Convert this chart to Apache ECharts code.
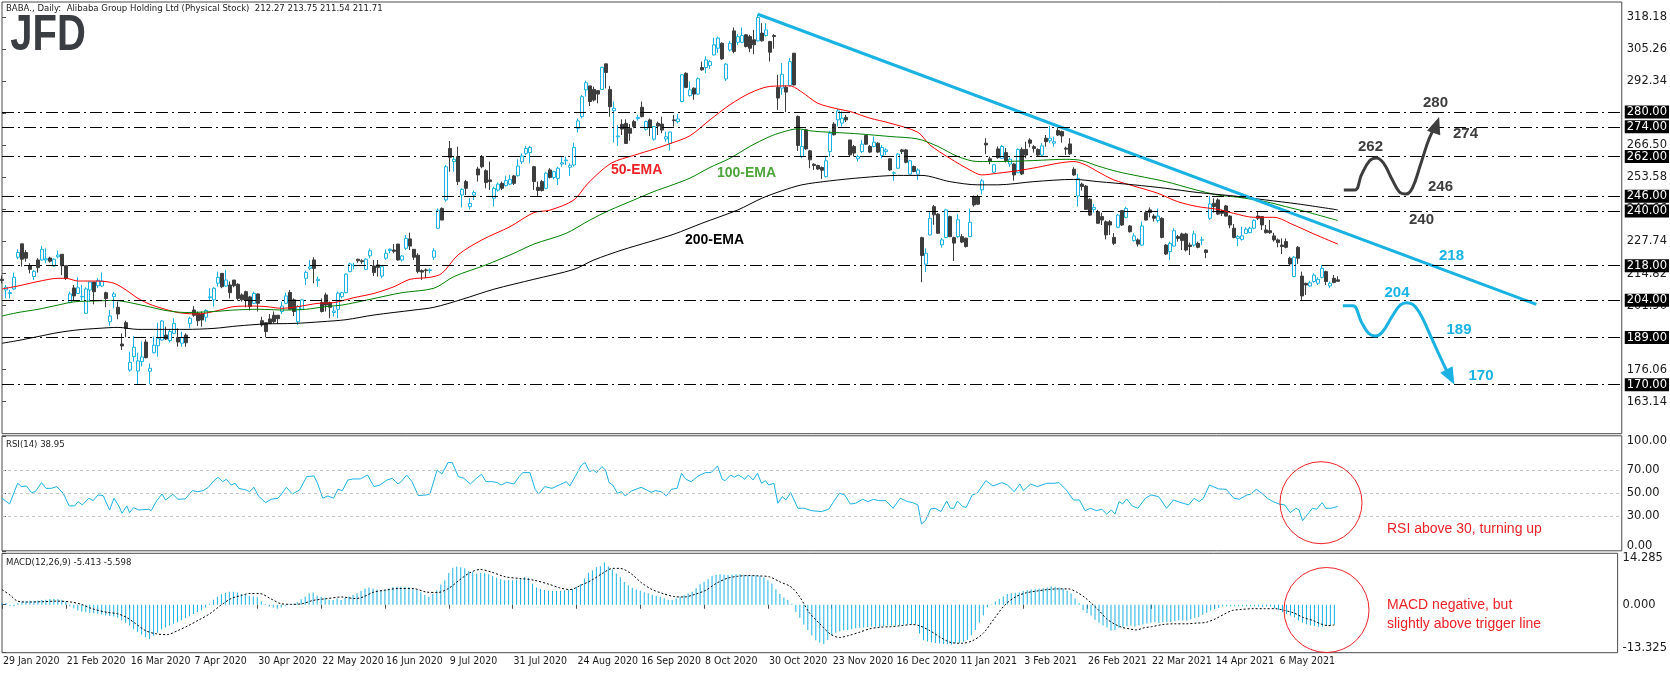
<!DOCTYPE html>
<html><head><meta charset="utf-8">
<script src="https://cdn.jsdelivr.net/npm/echarts@6/dist/echarts.min.js"></script>
<style>html,body{margin:0;padding:0;background:#fff}#c{width:1670px;height:674px}</style>
</head><body><div id="c"></div>
<script>
// ---- trading calendar ----
const startDate = '2020-01-29';
const holidays = ['2020-02-17','2020-04-10','2020-05-25','2020-07-03','2020-09-07','2020-11-26','2020-12-25','2021-01-01','2021-01-18','2021-02-15','2021-04-02'];
const SLOTS = 406;

// ---- daily OHLC ----
const opens = [
212.5,208.2,206.8,208.6,221.4,226.8,223.3,218.0,213.6,220.3,
220.3,220.3,221.1,217.9,221.6,222.6,218.0,203.2,209.0,206.8,
205.4,198.8,208.2,211.4,209.9,209.8,207.1,195.4,205.5,201.2,
186.4,195.0,175.9,181.3,175.5,179.3,187.2,175.4,182.9,185.7,
188.0,190.0,187.8,190.7,189.0,186.7,190.0,194.7,200.1,198.8,
198.5,197.2,205.1,204.2,210.9,214.9,209.8,210.2,212.2,210.5,
206.2,207.5,205.4,202.8,206.6,195.8,195.0,196.5,198.0,198.0,
199.5,202.8,207.2,204.2,195.4,200.4,212.9,216.9,220.3,212.0,
203.1,206.2,203.1,199.1,200.4,205.5,207.1,215.6,217.9,220.6,
220.0,216.5,222.0,217.9,218.3,213.8,221.0,224.1,224.3,226.7,
220.3,225.0,228.8,224.6,222.2,216.0,216.3,216.0,221.4,233.1,
241.1,244.5,265.3,260.0,262.0,246.5,251.9,241.8,246.5,257.0,
262.0,256.3,252.6,245.2,248.5,251.2,250.3,250.9,254.2,254.3,
259.9,263.3,263.6,257.9,249.6,251.9,249.2,256.6,253.6,253.2,
259.0,260.3,257.7,258.6,273.4,278.1,288.9,290.5,289.1,288.6,
289.1,299.4,289.1,280.5,270.0,275.0,275.4,273.4,276.1,277.3,
281.9,273.0,276.8,269.0,275.4,275.1,269.1,267.3,276.8,276.1,
284.2,295.6,286.6,289.6,287.2,297.9,297.9,298.7,303.0,305.7,
307.7,293.3,305.0,312.7,308.1,308.1,311.1,310.4,309.1,308.7,
311.8,310.8,308.4,310.8,289.9,289.6,289.9,290.7,303.7,278.2,
262.0,272.8,264.3,258.9,258.4,257.6,253.9,264.0,275.1,276.8,
275.5,277.8,268.7,266.1,261.1,264.0,270.5,266.1,266.1,267.4,
262.4,264.0,261.1,255.3,257.3,264.7,264.7,254.9,258.0,254.9,
229.3,218.6,230.4,241.8,238.8,226.4,229.3,237.8,229.3,229.7,
229.7,229.1,229.7,245.9,245.9,248.6,267.4,261.1,255.7,265.1,
261.3,263.6,259.0,259.0,255.5,264.9,264.9,268.7,266.0,264.9,
262.6,269.4,268.4,267.4,272.5,272.1,265.4,267.1,256.9,246.1,
250.9,250.1,244.8,240.7,239.8,237.8,235.7,235.7,229.4,233.5,
240.2,237.5,234.0,228.1,228.4,226.3,239.4,240.5,238.0,236.2,
237.1,226.3,223.7,225.9,229.7,230.8,230.8,226.3,226.3,227.0,
228.3,224.3,237.1,243.2,244.5,239.8,242.1,238.0,233.1,229.0,
228.6,231.0,231.3,233.1,238.0,237.8,232.4,232.1,230.0,228.4,
226.3,227.7,221.0,213.6,225.4,213.8,210.9,209.8,211.6,210.9,
213.3,215.6,209.8,212.9,212.27];
const highs = [
214.0,210.2,208.2,215.2,224.6,226.8,224.3,219.0,216.3,221.0,
226.0,225.0,221.6,221.0,224.1,222.7,218.0,207.5,210.2,213.3,
210.2,209.3,211.7,211.4,213.0,215.3,207.5,200.1,207.4,203.5,
190.7,195.8,183.3,189.6,182.9,187.4,188.3,178.6,189.4,195.0,
196.1,193.4,192.1,196.8,192.7,191.4,190.7,197.4,201.7,199.5,
199.5,200.4,208.9,209.3,215.6,214.9,216.3,211.6,212.2,210.9,
206.8,207.9,205.8,207.5,206.8,197.4,195.0,198.5,199.5,198.0,
203.5,207.1,208.2,204.8,202.1,204.4,216.0,220.3,221.4,213.6,
204.8,207.1,203.5,201.5,207.5,207.5,214.9,219.2,219.2,220.8,
220.6,221.0,224.9,220.3,220.3,217.9,224.6,225.0,226.7,226.7,
222.3,230.4,231.3,224.6,223.0,216.5,216.9,216.9,225.0,241.1,
241.5,258.6,268.3,262.0,266.0,249.2,252.6,245.2,248.3,257.9,
262.6,256.9,260.0,249.9,251.5,251.9,254.3,254.6,254.6,260.9,
263.3,266.3,266.3,258.2,251.9,252.6,255.9,257.3,256.3,257.9,
262.0,262.0,259.3,267.6,277.4,286.8,292.6,290.5,290.2,288.6,
298.3,299.4,290.5,284.2,274.7,277.0,277.0,275.1,276.8,278.8,
284.2,276.5,277.4,274.3,276.1,278.1,272.1,272.1,278.8,279.2,
295.2,296.0,292.3,289.9,293.9,300.3,302.4,301.0,310.0,310.4,
308.1,299.7,308.7,314.1,311.4,314.1,311.4,311.1,313.1,319.4,
315.8,315.8,308.7,311.4,295.0,299.7,290.7,301.7,303.7,278.6,
272.8,273.2,264.7,259.3,258.7,258.0,262.0,272.4,275.9,281.2,
280.2,278.8,268.7,266.7,262.7,268.7,270.8,266.7,270.1,267.8,
266.7,265.4,261.3,256.0,263.4,265.1,265.1,260.7,258.4,257.3,
229.7,225.0,239.6,242.5,239.2,229.1,240.9,238.2,229.7,238.8,
230.7,229.3,240.9,246.3,246.6,253.0,269.4,262.0,258.9,266.1,
266.7,265.4,261.7,259.3,265.3,265.7,268.0,269.4,266.7,265.3,
267.4,270.7,274.3,270.0,274.3,272.5,266.0,269.4,257.7,255.0,
251.5,250.5,245.2,242.9,240.5,239.4,236.2,236.4,231.1,238.8,
240.5,241.8,234.4,231.1,229.0,235.8,240.2,241.5,238.8,241.1,
237.5,226.7,227.7,233.1,230.4,231.3,231.3,227.3,232.1,227.7,
229.7,224.6,246.1,245.2,245.2,240.7,242.5,238.4,234.8,230.4,
233.7,233.5,233.7,236.7,239.8,238.0,234.4,236.4,231.3,229.0,
229.0,229.0,221.6,221.9,225.9,215.6,211.1,211.9,214.9,213.3,
218.3,216.0,211.6,214.2,213.75];
const lows = [
210.8,204.8,204.8,208.2,220.6,217.6,219.6,214.9,212.2,215.2,
220.0,219.0,219.2,217.6,221.0,214.2,212.2,202.8,203.9,206.6,
203.9,198.8,203.5,202.4,208.9,209.5,201.2,193.7,200.8,196.4,
184.0,189.1,175.2,179.3,170.1,177.3,180.6,170.1,182.6,181.3,
187.8,188.0,187.0,190.4,185.3,185.3,185.3,192.7,197.4,193.7,
193.4,195.4,204.2,201.5,209.5,208.9,209.5,204.8,209.3,203.9,
203.5,201.2,199.9,202.5,199.5,193.4,189.1,194.5,194.7,194.5,
198.5,202.5,200.4,197.7,194.1,200.1,210.2,216.3,210.9,209.5,
199.1,199.5,196.8,197.4,196.8,204.8,206.8,215.3,216.5,219.2,
218.7,216.3,221.0,213.8,213.6,212.9,220.3,223.0,223.0,220.0,
219.6,224.3,224.3,220.3,214.9,212.2,212.9,214.9,220.3,232.8,
236.4,243.8,255.9,255.9,250.5,241.5,246.5,240.7,244.5,251.9,
257.3,249.2,248.5,241.8,247.9,248.5,249.9,250.5,250.5,253.9,
259.0,262.6,259.3,248.5,246.1,247.9,248.8,253.2,252.8,250.5,
257.9,258.6,254.2,257.9,271.7,277.4,286.2,282.4,284.2,283.5,
288.9,289.5,278.1,267.6,266.3,270.7,267.1,268.4,273.4,276.5,
277.8,272.5,270.3,268.4,270.7,271.4,268.0,264.4,274.1,275.4,
283.9,289.6,286.2,284.9,286.9,296.6,295.6,297.4,302.8,303.7,
301.0,292.5,304.4,303.7,307.1,307.7,306.0,304.1,303.3,308.4,
308.4,310.4,300.3,305.5,280.8,286.9,279.9,290.3,290.7,264.3,
261.3,264.7,257.3,256.6,256.6,253.0,253.5,262.0,270.5,274.1,
274.1,275.9,262.0,262.0,260.0,263.4,266.7,263.4,265.7,263.4,
261.3,262.7,256.2,252.2,257.0,263.0,259.3,254.6,255.7,252.6,
211.3,215.4,230.2,234.5,230.8,225.3,229.1,229.5,219.9,229.1,
227.1,225.3,229.5,241.8,242.5,246.8,263.0,258.9,255.3,261.1,
261.1,259.6,257.9,252.3,255.3,254.6,261.3,265.7,263.6,262.2,
262.2,266.0,267.4,266.0,270.3,267.6,262.6,262.6,254.2,241.8,
248.3,240.5,238.0,239.4,234.8,234.4,228.6,230.4,226.3,233.1,
234.0,237.1,231.3,227.7,225.7,225.9,236.2,237.5,235.8,235.4,
229.0,222.3,220.3,225.7,227.7,224.3,223.7,222.3,225.7,225.0,
226.3,221.0,236.4,239.4,238.4,238.0,237.8,233.1,229.0,225.9,
228.1,230.8,231.1,232.7,236.4,232.4,231.0,230.8,227.7,225.4,
222.7,225.0,218.3,213.3,218.7,204.2,206.2,209.5,211.2,210.2,
212.9,210.2,208.9,210.9,211.54];
const closes = [
212.0,209.3,207.1,213.3,223.3,220.6,221.0,216.5,215.7,217.2,
224.6,220.8,219.8,220.6,222.3,218.0,212.9,206.6,205.8,209.1,
205.6,208.6,211.4,207.5,212.1,211.8,204.7,197.7,206.6,198.5,
185.6,192.7,179.0,185.1,179.6,181.2,180.9,176.6,185.9,188.7,
195.7,188.4,191.4,194.7,187.2,189.0,186.9,196.8,198.0,195.8,
196.1,199.9,205.4,208.9,213.3,209.5,212.2,207.1,209.9,204.8,
204.2,203.9,201.5,206.8,202.8,194.1,191.4,194.7,195.4,196.6,
201.7,205.8,200.4,199.5,201.5,204.2,215.3,217.5,216.9,212.5,
199.5,202.1,201.2,199.7,206.9,207.1,214.6,218.7,218.2,220.0,
219.6,220.6,224.0,215.2,217.3,217.6,223.0,224.6,223.8,220.3,
221.9,229.0,225.9,221.4,215.6,215.4,216.0,216.3,224.0,240.4,
236.4,257.9,261.7,260.9,251.9,248.8,249.2,243.1,247.5,254.6,
257.9,251.5,251.9,249.2,250.9,249.2,252.3,252.8,251.2,258.2,
262.2,265.3,265.7,251.9,248.3,248.3,255.3,253.6,255.9,257.3,
259.5,260.6,258.5,265.7,276.4,286.2,291.8,284.2,284.8,287.2,
298.0,295.9,282.1,281.5,270.3,273.1,267.3,271.4,274.1,277.8,
278.1,276.1,273.8,274.1,274.3,272.7,270.0,271.9,276.5,277.2,
295.0,289.9,288.9,287.2,293.4,297.0,301.0,300.3,307.1,309.8,
301.4,299.3,307.7,304.4,310.4,310.8,306.4,305.7,307.1,318.1,
308.7,313.1,304.1,310.4,285.6,295.2,288.0,300.3,290.9,266.5,
266.1,265.1,260.7,258.4,257.0,256.5,260.3,271.4,270.8,280.4,
277.5,276.8,262.7,263.4,262.0,267.0,267.0,263.8,267.8,263.8,
265.7,264.7,256.6,255.5,263.0,264.0,259.7,260.3,256.0,256.6,
222.1,223.0,237.1,238.5,231.1,228.4,240.5,229.7,227.1,236.5,
227.5,225.7,235.5,242.5,242.8,252.2,266.7,260.0,258.7,261.6,
266.1,260.4,260.9,254.6,264.9,255.0,262.6,267.4,265.3,262.6,
266.3,268.0,269.4,268.0,270.7,270.3,265.0,263.1,254.6,253.2,
249.9,240.7,238.4,241.5,235.1,236.4,230.4,234.4,227.0,238.4,
234.4,241.1,231.7,230.0,226.7,234.0,236.4,239.4,237.1,238.0,
229.4,222.7,227.0,232.1,229.0,228.1,224.3,225.7,230.8,225.4,
228.4,223.3,242.9,241.8,238.8,239.1,238.0,234.4,229.4,229.7,
230.0,232.7,233.1,236.2,237.1,234.4,231.3,231.3,228.4,227.3,
225.7,225.4,218.7,221.4,221.0,205.8,210.2,211.1,214.2,212.5,
216.9,211.6,210.9,211.2,211.71];

// ---- moving averages: [bar, price] ----
const ema50 = [[0,208.6],[4,209.8],[9,211.6],[14,212.9],[16,212.9],[19,211.8],[24,211.8],[28,210.9],[31,208.2],[34,204.8],[37,202.4],[40,200.8],[44,199.1],[49,198.5],[54,199.9],[58,201.5],[63,201.7],[66,201.5],[70,200.8],[74,201.5],[79,202.8],[83,203.1],[88,205.1],[93,206.8],[98,209.5],[102,212.5],[107,213.3],[110,214.9],[114,222.3],[120,228.4],[127,233.7],[133,239.4],[137,240.4],[143,244.5],[146.5,251.2],[152.3,259.3],[158.2,262.6],[163,265.0],[167,267.2],[172,270.4],[177,276.8],[182,282.9],[187,287.6],[192,290.3],[197,290.5],[200,288.0],[204,283.5],[209,281.2],[212,280.2],[217,277.5],[222,275.5],[229,271.8],[232,266.7],[237,261.3],[242,256.6],[245,254.6],[249,255.3],[254,256.3],[259,257.7],[264,259.3],[268,260.0],[271,258.6],[274,255.9],[278,252.6],[283,250.1],[289,247.2],[294,243.8],[299,241.8],[304,240.7],[308,239.1],[313,237.5],[318,237.5],[323,234.4],[328,230.8],[334,226.7]];
const ema100 = [[0,197.7],[4,199.1],[9,200.4],[14,202.1],[18,203.4],[24,203.8],[28,204.0],[31,203.4],[36,201.7],[41,199.9],[46,199.1],[53,199.5],[58,200.1],[64,200.4],[71,200.1],[76,200.4],[81,201.5],[85,202.1],[92,204.4],[100,207.1],[108,208.9],[113,213.6],[121,218.3],[128,223.0],[133,226.7],[141,231.0],[147,236.4],[152,240.4],[158,244.5],[163,247.9],[167,250.2],[172,253.3],[177,257.6],[182,261.3],[187,266.1],[192,270.1],[195,271.8],[199,273.2],[202,272.4],[207,271.8],[212,271.4],[217,270.8],[222,270.1],[229,269.1],[234,266.1],[239,262.0],[244,260.0],[249,260.0],[258,260.4],[266,260.9],[270,260.4],[274,258.2],[279,255.9],[284,254.2],[291,251.9],[298,248.8],[304,246.5],[309,245.6],[316,243.8],[321,241.8],[326,239.8],[334,236.2]];
const ema200 = [[0,186.7],[4,187.8],[9,189.4],[14,191.0],[19,192.1],[24,192.7],[29,193.1],[34,192.3],[39,192.3],[46,192.3],[53,192.7],[59,193.7],[66,194.5],[73,194.7],[80,195.4],[86,196.2],[93,198.1],[103,200.1],[108,201.2],[115,204.4],[123,208.5],[133,212.5],[143,216.5],[148,220.3],[155,224.3],[162,227.7],[168,230.7],[175,235.1],[184,240.5],[190,245.2],[195,248.2],[200,250.6],[207,252.2],[215,253.5],[224,254.4],[230,254.4],[237,251.9],[244,250.6],[249,250.6],[258,251.9],[268,252.8],[274,251.9],[283,250.6],[291,249.2],[299,247.5],[308,246.1],[316,244.5],[324,242.9],[334,240.5]];

// ---- RSI(14): [bar, value] ----
const rsi = [[0,45.7],[1.9,40.7],[3.9,58.7],[4.9,55.8],[6.1,56.4],[7.4,50.6],[8.3,51.4],[9.9,59.3],[11,54.3],[12.3,54.3],[13.7,55.8],[15.3,50],[16.8,39],[18.2,39],[19,42.8],[20.1,39.9],[21.7,45.7],[22.8,43.6],[24,48.6],[25.3,48],[26.9,35.5],[28,45.7],[29.3,38.4],[30,32.6],[31.2,39],[31.9,33.2],[32.9,37.5],[34.2,35.5],[36.7,36.1],[37.3,34.9],[38.7,43.6],[40,49.4],[40.9,44.2],[42.7,49.1],[44,44.8],[45.8,45.1],[47.6,52.3],[48.9,51.4],[50.3,52.3],[51.6,55.2],[53,61],[54,63.9],[55.2,60.1],[56.1,62.2],[57.3,57.2],[58.3,58.7],[59.2,54.3],[61,52.9],[61.9,51.4],[63,55.2],[64.1,47.7],[65.9,41.9],[67.3,44.8],[69,45.7],[69.9,49.4],[71.1,55.2],[72.6,49.4],[74.4,52.9],[76.2,64.5],[78,65.1],[78.9,58.7],[80.2,45.7],[81.5,47.7],[82.9,45.7],[84,53.5],[85.1,52.3],[86.5,61.6],[87.8,62.5],[89.6,62.5],[91.4,65.9],[93,55.8],[94.5,57.2],[96.3,61.6],[97.6,63],[99,58.1],[99.8,60.1],[101.2,65.9],[102.5,60.1],[104.1,48],[106.1,48.6],[107,49.4],[108.8,70.3],[110,66.8],[111.5,76.7],[112.6,76.7],[114.1,64.5],[115.5,63],[117.1,58.1],[118.6,63],[119.9,66.5],[121,60.1],[122.6,60.1],[123.9,59.3],[124.8,57.2],[126.2,59.6],[128,58.1],[129.3,64.5],[130.2,68],[132,68],[133.3,53.5],[134.2,49.4],
[135.7,55.8],[137.5,54.3],[139.3,57.2],[141.1,60.1],[142,56.4],[143.3,64.5],[144.9,74.6],[145.8,76.7],[146.9,68.8],[147.8,70.3],[148.7,68],[150,73.2],[150.9,70.3],[151.8,59.3],[152.7,57.2],[153.9,50],[154.9,51.4],[155.8,47.7],[157.4,52],[159.8,55.2],[161.2,52.9],[162.3,50.9],[163.4,52.3],[164.8,51.4],[166.1,47.7],[167.4,53.5],[168.8,54.3],[169.9,67.4],[171,62.2],[172.3,60.1],[174.1,65.1],[175.9,68],[177.3,68],[178.9,73.8],[180.1,62.2],[180.8,61],[182.2,65.9],[183.1,63.9],[184.1,65.9],[185.1,63.9],[185.7,62.2],[186.6,65.9],[187.8,61.6],[188.9,67.4],[189.9,58.7],[190.9,61],[191.7,57.2],[193,58.7],[194,41.3],[195.1,47.1],[196,44.2],[197.2,50.6],[199,37],[200.6,37],[202.4,34.9],[204.9,34.1],[206.7,36.1],[208.1,43.6],[209.4,50],[210.7,48.6],[212.1,40.7],[213.4,41.3],[215.2,44.8],[216.5,42.8],[217.9,44.8],[219.2,43.6],[221,43.6],[222.8,37],[224.6,45.7],[226.4,42.8],[227.7,41.9],[229,39.9],[229.9,23.3],[231,26.8],[232.2,36.4],[233.3,37],[234.8,34.1],[236.2,43.3],[237.1,37],[238,37],[238.9,43.3],[240.2,38.4],[241.1,37.8],[242.6,48.6],[243.8,50],[246,61],[247.8,56.4],[250,59.3],[251.4,57.2],[253.1,51.4],[254.5,58.1],[255.4,52.3],[257.2,58.1],[258.9,55.8],[261.2,58.7],[263,58.7],[264.3,59.3],[266.1,52.9],[267.9,44.2],[269.4,44.2],
[270.8,34.9],[272.2,37],[273.6,34.9],[275,36.1],[276.2,32],[277.4,35.5],[278.3,32],[279.3,42.8],[280.2,40.7],[281.2,45.1],[282.6,39],[284,37],[285.9,45.7],[287.3,48.6],[289.2,47.1],[291.2,37],[292.9,44.2],[294.8,41.9],[296.7,39.9],[298.1,45.7],[299.3,42.8],[300.4,45.7],[301.9,57.2],[304.2,53.8],[306.1,53.5],[308,45.7],[309.4,44.8],[311.3,48.6],[312.2,49.1],[313.6,53.5],[315,50],[316.4,45.7],[317.8,42.8],[319.3,40.7],[320.7,39.9],[322.1,33.2],[323.5,37],[324.3,35.5],[325.2,26.2],[326.3,31.2],[327.7,37],[328.7,36.1],[330.1,41.9],[331,37],[332.4,37],[333.8,38.4],[334,38.95]];

// ---- MACD(12,26,9) histogram per bar ----
const macdHist = [
0.4,0.5,-0.3,-0.4,0.5,0.9,1.0,1.1,1.1,1.2,
1.3,1.4,1.6,1.6,1.5,1.4,1.0,-0.4,-1.0,-1.6,
-1.9,-2.1,-2.2,-2.4,-2.5,-2.7,-3.0,-3.1,-3.3,-3.6,
-4.3,-5.0,-5.8,-6.8,-7.6,-8.3,-9.0,-9.5,-8.6,-7.8,
-6.9,-6.3,-5.8,-5.3,-4.9,-4.3,-3.7,-3.2,-2.6,-2.0,
-1.5,-0.8,0.3,1.4,2.2,2.9,3.3,3.6,3.6,3.4,
3.0,2.7,2.5,2.3,2.1,1.0,0.2,-0.5,-0.8,-1.1,
-0.8,-0.3,0.1,0.3,0.7,1.5,2.3,3.1,3.4,2.5,
2.2,2.0,1.4,1.3,1.7,1.3,1.9,2.3,2.7,3.2,
3.8,4.5,4.8,4.5,4.2,4.0,4.2,4.6,4.9,5.0,
5.0,5.0,4.9,4.5,4.1,3.5,2.7,2.2,3.0,4.0,
5.6,6.8,8.8,10.3,10.6,10.4,10.1,9.4,9.0,8.6,
8.9,8.8,8.5,8.0,7.5,7.1,6.8,6.8,6.8,7.0,
7.3,7.6,7.5,5.8,4.8,4.4,4.1,3.9,3.8,3.8,
3.8,4.0,4.1,4.4,4.9,5.7,7.3,8.9,9.6,10.4,
10.7,11.7,10.6,9.8,8.7,7.6,6.3,5.4,4.7,4.2,
3.9,3.5,3.2,2.8,2.5,2.2,1.8,1.4,1.3,1.7,
2.2,2.6,3.1,3.6,4.6,5.7,6.4,7.1,8.0,8.3,
8.5,8.3,8.2,8.3,8.5,8.5,8.3,8.2,8.2,8.2,
8.0,7.6,6.8,5.9,4.3,3.0,2.0,1.3,0.3,-2.0,
-3.6,-5.5,-7.0,-8.5,-9.9,-10.5,-10.9,-9.8,-8.5,-7.8,
-7.4,-7.1,-7.0,-6.8,-6.5,-6.4,-6.3,-6.2,-6.1,-6.1,
-6.1,-5.9,-5.8,-5.8,-5.8,-5.6,-5.5,-5.5,-5.4,-5.4,
-8.0,-9.9,-10.2,-10.4,-10.6,-10.8,-10.9,-11.0,-11.1,-10.8,
-10.6,-10.3,-9.8,-8.5,-7.0,-5.0,-3.0,-0.7,0.1,0.9,
1.6,2.3,3.0,3.2,3.3,3.4,3.8,4.0,4.2,4.3,
4.5,4.6,4.8,5.1,5.0,4.8,4.5,3.9,3.1,1.7,
0.5,-1.5,-2.3,-3.0,-4.2,-5.0,-5.8,-6.3,-7.2,-7.0,
-6.4,-6.1,-6.0,-5.8,-6.1,-5.8,-5.5,-5.2,-5.0,-4.9,
-5.1,-4.9,-4.9,-4.8,-4.6,-4.3,-4.4,-4.4,-4.0,-3.6,
-3.4,-2.8,-2.2,-1.6,-1.2,-0.9,-0.5,-0.4,-0.45,-0.45,
-0.45,-0.45,-0.45,-0.45,-0.45,-0.5,-0.65,-0.5,-0.5,-1.0,
-1.4,-2.0,-2.6,-3.0,-3.5,-4.4,-5.0,-5.4,-5.7,-5.9,
-6.1,-6.1,-5.9,-5.8,-5.413];
const macdSignal = [[0,4.2],[2.1,2.6],[3.9,1.0],[6.5,0.75],[10.1,0.85],[13.7,1.0],[17.3,0.75],[19.9,0.1],[22.6,-1.1],[26.2,-2.1],[28.9,-2.5],[31.1,-3.45],[33.3,-5.1],[36,-7.2],[38.7,-8.1],[41.4,-8.3],[44,-7.2],[46.7,-5.8],[49.4,-4.2],[52.1,-2.5],[54.8,-0.2],[57.4,1.7],[60.1,2.6],[61.9,3.1],[64.6,3.1],[67.3,1.7],[69.9,0.3],[72.6,0.1],[75.3,0.3],[78,1.2],[81.5,1.7],[85.1,2.15],[88.7,1.7],[90.5,2.15],[93.2,3.5],[95.8,4.0],[99.4,4.5],[103,4.5],[106.5,3.5],[109.2,3.4],[111.9,4.5],[114.6,6.8],[117.3,8.9],[119.9,9.8],[122.6,9.1],[126.2,7.75],[129.8,7.3],[133.4,6.8],
[137.1,5.7],[139.8,4.7],[142.4,4.2],[145.1,5.4],[147.8,6.8],[150.5,8.7],[153.1,10.1],[154.9,10.1],[157.6,8.7],[160.3,6.1],[163,4.2],[165.7,3.1],[168.3,2.3],[171,2.15],[173.7,2.9],[176.4,4.0],[179,5.9],[181.7,7.3],[184.4,7.9],[187.1,8.1],[189.7,8.0],[192.4,7.75],[195.1,6.3],[197.8,4.95],[200,2.15],[202.3,-2.1],[205,-5.3],[207.6,-8.1],[209.9,-9.1],[212.1,-8.6],[214.8,-7.7],[217.5,-6.7],[220.1,-6.25],[222.8,-6.1],[225.5,-5.8],[228.2,-5.5],[229.9,-5.8],[232.6,-7.2],[235.3,-9.1],[237.9,-10.5],[240.6,-10.7],[243.3,-10.0],[246,-7.9],[248.7,-3.9],[251.3,-0.2],[254,2.15],[256.7,3.3],[259.4,3.8],[262,4.2],[264.7,4.4],[267.4,4.4],
[269.4,3.5],[271.3,2.15],[273.2,0.28],[275,-1.6],[276.9,-3.9],[278.8,-5.3],[280.7,-6.25],[282.6,-6.7],[284.4,-7.0],[286.3,-6.4],[288.2,-6.1],[291,-5.5],[293.8,-5.3],[296.7,-5.3],[299.5,-5.1],[301.8,-4.9],[304.2,-3.9],[306.6,-2.5],[308.4,-1.6],[310.8,-1.3],[313.6,-1.1],[316.4,-1.1],[319.2,-1.1],[321.6,-1.6],[323.9,-2.3],[326.3,-3.6],[328.7,-4.4],[330.5,-5.3],[332.4,-5.8],[334,-5.598]];

// ---- levels, ticks, trendline, scenario paths ----
const levels = [280, 274, 262, 246, 240, 218, 204, 189, 170];
const priceTicks = [163.14,176.06,188.98,201.90,214.82,227.74,240.66,253.58,266.50,279.42,292.34,305.26,318.18];
const rsiTicks = [0, 30, 50, 70, 100];
const rsiLevels = [70, 50, 30];
const macdTicks = [-13.325, 0, 14.285];
const trendLine = [[189, 319.4], [383.65, 202.4]];
const bullScenario = [[335.5,248.54],[338.28,248.54],[339.9,254.59],[341.9,260.24],[343.65,261.45],[345.4,259.43],[347.65,252.57],[349.4,247.73],[351.03,246.92],[352.65,249.34],[354.65,258.62],[356.9,269.51],[358.65,274.76]];
const bearScenario = [[335.25,201.87],[337.78,201.87],[339.9,195.29],[341.65,190.85],[343.4,189.64],[345.15,191.26],[347.65,197.71],[349.65,202.15],[351.23,203.08],[352.9,202.15],[354.9,197.71],[357.65,188.03],[360.9,176.73],[362.15,173.10]];

// ---- build ----
const MONTHS = ['Jan','Feb','Mar','Apr','May','Jun','Jul','Aug','Sep','Oct','Nov','Dec'];
const categories = [];
(function(){
  let d = new Date(startDate + 'T00:00:00Z');
  while (categories.length < opens.length) {
    const iso = d.toISOString().slice(0,10);
    const wd = d.getUTCDay();
    if (wd !== 0 && wd !== 6 && holidays.indexOf(iso) < 0)
      categories.push(d.getUTCDate() + ' ' + MONTHS[d.getUTCMonth()] + ' ' + d.getUTCFullYear());
    d = new Date(d.getTime() + 86400000);
  }
  while (categories.length < SLOTS) categories.push('');
})();
const candles = opens.map((o, i) => [o, closes[i], lows[i], highs[i]]);

const CYAN = '#19b2e3', DARK = '#3d3d3d', BORDER = '#4b4b4b', RED = '#ec2227';
const AXF = 'DejaVu Sans';
const CF = 'DejaVu Sans Condensed';
const FS = 11.5, FSX = 10.5, FST = 9.5;
const LBL = {fontSize: FS, fontFamily: AXF, color: '#1a1a1a'};
const tick = (vals) => ({show: true, length: 4, customValues: vals, lineStyle: {color: BORDER}});
const lastIdx = opens.length - 1;
// edge labels are nudged inside their panel, as the terminal does
const edgeRich = {up: {padding: [0, 0, 10, 0], fontSize: FS, fontFamily: AXF, color: '#1a1a1a'},
                  down: {padding: [10, 0, 0, 0], fontSize: FS, fontFamily: AXF, color: '#1a1a1a'}};
const edgeFmt = (lo, hi, dec) => v => {
  const s = v.toFixed(dec);
  if (Math.abs(v - lo) < 1e-9) return '{up|' + s + '}';
  if (Math.abs(v - hi) < 1e-9) return '{down|' + s + '}';
  return s;
};
const txt = (x, y, text, size, color, opts) => Object.assign({type: 'text', z: 100, x: x, y: y,
  style: Object.assign({text: text, fontSize: size, fontFamily: 'Liberation Sans', fill: color, verticalAlign: 'middle'}, opts || {})});

const chart = echarts.init(document.getElementById('c'), null, {renderer: 'canvas'});
const option = {
  animation: false,
  backgroundColor: '#ffffff',
  grid: [
    {left: 2, top: 2, width: 1620, height: 431.7, show: true, borderColor: BORDER, borderWidth: 1},
    {left: 2, top: 435.8, width: 1620, height: 115, show: true, borderColor: BORDER, borderWidth: 1},
    {left: 2, top: 553.3, width: 1620, height: 99.4, show: true, borderColor: BORDER, borderWidth: 1}
  ],
  xAxis: [
    {type: 'category', gridIndex: 0, data: categories, boundaryGap: false, show: false},
    {type: 'value', gridIndex: 0, min: 0, max: SLOTS - 1, show: false},
    {type: 'value', gridIndex: 1, min: 0, max: SLOTS - 1, show: false},
    {type: 'category', gridIndex: 2, data: categories, boundaryGap: false,
      axisLine: {show: false},
      axisTick: {show: true, length: 4, lineStyle: {color: BORDER},
        interval: (i, v) => i % 16 === 0 && v !== ''},
      axisLabel: {interval: (i, v) => i % 16 === 0 && v !== '', align: 'left', margin: 3, padding: [0,0,0,1],
        hideOverlap: false, fontSize: FSX, fontFamily: CF, color: '#1a1a1a'},
      splitLine: {show: false}},
    {type: 'value', gridIndex: 2, min: 0, max: SLOTS - 1, show: false}
  ],
  yAxis: [
    {type: 'value', gridIndex: 0, position: 'right', min: 150.22, max: 324.35, scale: true,
      splitLine: {show: false}, axisLine: {show: false}, axisTick: tick(priceTicks),
      axisLabel: Object.assign({customValues: priceTicks, formatter: v => v.toFixed(2), margin: 5}, LBL)},
    {type: 'value', gridIndex: 1, position: 'right', min: 0, max: 100,
      splitLine: {show: false}, axisLine: {show: false}, axisTick: tick(rsiTicks),
      axisLabel: Object.assign({customValues: rsiTicks, formatter: edgeFmt(0, 100, 2), rich: edgeRich, margin: 5}, LBL)},
    {type: 'value', gridIndex: 2, position: 'right', min: -13.325, max: 14.285,
      splitLine: {show: false}, axisLine: {show: false}, axisTick: tick(macdTicks),
      axisLabel: Object.assign({customValues: macdTicks, formatter: edgeFmt(-13.325, 14.285, 3), rich: edgeRich, margin: 5}, LBL)}
  ],
  series: [
    {type: 'candlestick', xAxisIndex: 0, yAxisIndex: 0, data: candles, barWidth: 3,
      itemStyle: {color: '#ffffff', color0: DARK, borderColor: CYAN, borderColor0: DARK, borderWidth: 1},
      markLine: {silent: true, symbol: 'none', animation: false,
        lineStyle: {color: '#000', width: 1, type: [12, 4, 2, 4]},
        label: {show: true, position: 'end', distance: 3, formatter: p => Number(p.value).toFixed(2),
          backgroundColor: '#000', color: '#fff', padding: [1, 2, 0, 2], fontSize: FS, fontFamily: AXF},
        data: levels.map(v => ({yAxis: v}))}},
    {type: 'line', xAxisIndex: 1, yAxisIndex: 0, data: ema50, symbol: 'none', smooth: 0.3, lineStyle: {color: '#ff0000', width: 1}, z: 3},
    {type: 'line', xAxisIndex: 1, yAxisIndex: 0, data: ema100, symbol: 'none', smooth: 0.3, lineStyle: {color: '#008000', width: 1}, z: 3},
    {type: 'line', xAxisIndex: 1, yAxisIndex: 0, data: ema200, symbol: 'none', smooth: 0.3, lineStyle: {color: '#000000', width: 1}, z: 3},
    {type: 'line', xAxisIndex: 1, yAxisIndex: 0, data: trendLine, symbol: 'none', lineStyle: {color: CYAN, width: 3}, z: 4},
    {type: 'line', xAxisIndex: 1, yAxisIndex: 0, symbol: 'none', smooth: 0.4, lineStyle: {color: DARK, width: 3}, itemStyle: {color: DARK}, z: 5,
      data: bullScenario.map((p, i) => i === bullScenario.length - 1 ? {value: p, symbol: 'triangle', symbolSize: [14, 17], symbolRotate: -19} : {value: p})},
    {type: 'line', xAxisIndex: 1, yAxisIndex: 0, symbol: 'none', smooth: 0.4, lineStyle: {color: CYAN, width: 3}, itemStyle: {color: CYAN}, z: 5,
      data: bearScenario.map((p, i) => i === bearScenario.length - 1 ? {value: p, symbol: 'triangle', symbolSize: [14, 17], symbolRotate: -152} : {value: p})},
    {type: 'line', xAxisIndex: 2, yAxisIndex: 1, data: rsi, symbol: 'none', lineStyle: {color: CYAN, width: 1},
      markLine: {silent: true, symbol: 'none', label: {show: false}, lineStyle: {color: '#c4c4c4', width: 1, type: [3, 3]},
        data: rsiLevels.map(v => ({yAxis: v}))}},
    {type: 'bar', xAxisIndex: 3, yAxisIndex: 2, data: macdHist, barWidth: 1, itemStyle: {color: CYAN}},
    {type: 'line', xAxisIndex: 4, yAxisIndex: 2, data: macdSignal, symbol: 'none', smooth: 0.3, lineStyle: {color: '#000', width: 1, type: [2, 2]}, z: 4}
  ],
  graphic: [
    txt(6, 9, 'BABA., Daily:  Alibaba Group Holding Ltd (Physical Stock)  ' + [opens[lastIdx], highs[lastIdx], lows[lastIdx], closes[lastIdx]].map(v => v.toFixed(2)).join(' '), FST, '#1a1a1a', {fontFamily: CF}),
    {type: 'text', z: 100, x: 48, y: 36, scaleY: 1.25, style: {text: 'JFD', fontSize: 40, fontWeight: 'bold', fontFamily: 'Liberation Sans', fill: '#3a3d42', align: 'center', verticalAlign: 'middle'}},
    txt(6, 445, 'RSI(14) ' + rsi[rsi.length - 1][1].toFixed(2), FST, '#1a1a1a', {fontFamily: CF}),
    txt(6, 562.5, 'MACD(12,26,9) ' + macdHist[lastIdx].toFixed(3) + ' ' + macdSignal[macdSignal.length - 1][1].toFixed(3), FST, '#1a1a1a', {fontFamily: CF}),
    txt(611, 170, '50-EMA', 14, RED, {fontWeight: 'bold'}),
    txt(717, 173, '100-EMA', 14, '#4da43a', {fontWeight: 'bold'}),
    txt(685, 240, '200-EMA', 14, '#000', {fontWeight: 'bold'}),
    txt(1435.5, 103, '280', 15, DARK, {fontWeight: 'bold', align: 'center'}),
    txt(1465.5, 134, '274', 15, DARK, {fontWeight: 'bold', align: 'center'}),
    txt(1370.5, 147, '262', 15, DARK, {fontWeight: 'bold', align: 'center'}),
    txt(1440.5, 187, '246', 15, DARK, {fontWeight: 'bold', align: 'center'}),
    txt(1421.5, 220, '240', 15, DARK, {fontWeight: 'bold', align: 'center'}),
    txt(1451.5, 256, '218', 15, CYAN, {fontWeight: 'bold', align: 'center'}),
    txt(1397, 293, '204', 15, CYAN, {fontWeight: 'bold', align: 'center'}),
    txt(1459, 330, '189', 15, CYAN, {fontWeight: 'bold', align: 'center'}),
    txt(1481, 376, '170', 15, CYAN, {fontWeight: 'bold', align: 'center'}),
    {type: 'circle', z: 100, shape: {cx: 1321, cy: 502.7, r: 41}, style: {fill: 'none', stroke: RED, lineWidth: 1}},
    {type: 'circle', z: 100, shape: {cx: 1326.5, cy: 610, r: 42.5}, style: {fill: 'none', stroke: RED, lineWidth: 1}},
    txt(1387, 529, 'RSI above 30, turning up', 14, RED),
    txt(1387, 605, 'MACD negative, but', 14, RED),
    txt(1387, 624, 'slightly above trigger line', 14, RED)
  ]
};
chart.setOption(option);
</script>
</body></html>
